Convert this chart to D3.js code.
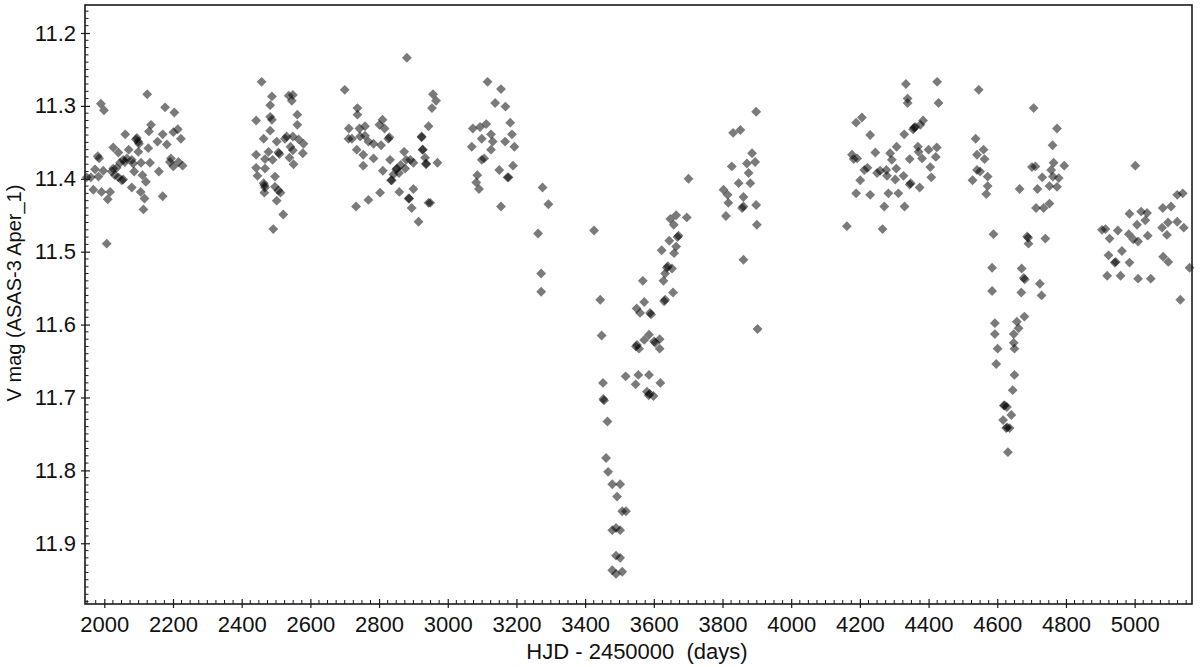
<!DOCTYPE html>
<html>
<head>
<meta charset="utf-8">
<script src="https://cdn.jsdelivr.net/npm/d3@7"></script>
<style>
  html, body { margin: 0; padding: 0; background: #fff; }
  svg { display: block; }
</style>
</head>
<body>
<svg id="chart" width="1200" height="667"></svg>
<script>
// ---- Data (HJD - 2450000, V magnitude) ----
const hjd = [
  // season 1
  2125,1990,1999,2177,2204,2136,2130,2061,2092,2095,2099,2170,2214,2201,2223,2155,2182,2128,2099,2026,
  1981,1985,2041,2055,2060,2080,2084,2107,2133,2194,2191,2216,2228,2201,2159,2026,2022,1973,1997,2031,
  2041,2055,2051,1961,1983,2087,2111,2121,2080,2106,2117,2170,1968,1992,2017,2010,2114,2007,1949,2036,
  2066,2071,2046,2101,
  // season 2
  2458,2488,2483,2537,2549,2546,2442,2483,2488,2562,2562,2483,2464,2502,2526,2531,2549,2566,2580,2542,
  2507,2510,2478,2549,2578,2442,2539,2468,2490,2551,2442,2468,2446,2497,2464,2466,2468,2497,2507,2466,
  2513,2502,2521,2492,
  // season 3
  2700,2737,2737,2810,2801,2712,2743,2759,2816,2711,2721,2745,2759,2769,2784,2806,2827,2735,2754,2784,
  2832,2754,2811,2837,2850,2873,2879,2891,2900,2859,2803,2769,2733,2888,2895,2915,2924,2927,2937,2944,
  2876,2881,2957,2966,2954,2944,2924,2927,2934,2937,2970,2900,2886,2949,2830,2852,2835,2842,2858,2863,
  // season 4
  3116,3155,3138,3168,3182,3073,3094,3112,3099,3126,3131,3167,3187,3194,3070,3126,3106,3099,3190,3150,
  3174,3177,3086,3083,3091,3155,
  // sparse + deep fade
  3276,3293,3263,3272,3272,3426,3444,3448,3452,3453,3455,3465,
  3461,3467,3479,3493,3502,3508,3519,3479,3490,3502,3490,3502,3479,3490,3508,
  3518,3547,3555,3586,3619,3580,3585,3588,3599,3548,3551,3557,3572,3586,3601,3604,3617,3617,
  3550,3560,3572,3589,3592,3568,3630,3633,3656,3628,3633,3638,3641,3653,3623,3645,3659,3665,3669,3672,
  3648,3665,3658,3696,3701,
  // season 5
  3827,3803,3857,3861,3900,3902,3886,3871,3895,3876,3847,3881,3861,3817,3810,3898,3861,3831,3852,3898,3815,
  // season 6
  4162,4266,4189,4206,4230,4177,4182,4192,4245,4201,4189,4230,4222,4213,4250,4259,4279,4271,4283,4312,
  4330,4288,4307,4293,4306,4277,4303,4327,4345,4348,4374,4345,4329,4355,4358,4361,4376,4384,4369,4371,
  4381,4400,4424,4421,4405,4408,4334,4339,4339,4425,4429,
  // season 7
  4546,4537,4541,4560,4563,4528,4541,4550,4572,4572,4568,
  4706,4774,4761,4701,4711,4764,4795,4757,4731,4762,4779,4752,4774,4665,4717,4752,4735,4713,4589,4687,
  4690,4691,4740,4585,4671,4677,4680,4724,4729,4585,4670,4679,4657,4662,4593,4593,4648,4648,4650,4601,
  4597,4650,4645,4619,4622,4628,4641,4617,4626,4629,4636,4631,
  // season 8
  5002,4905,4915,4927,4951,4985,4983,4996,5007,5019,5036,5031,5038,5010,4963,4924,4942,4945,4985,4920,
  4959,5082,5106,5124,5140,5080,5097,5124,5143,5094,5083,5098,5160,5047,5010,5133
];
const vmag = [
  // season 1
  11.284,11.297,11.306,11.302,11.309,11.326,11.335,11.339,11.346,11.344,11.349,11.339,11.332,11.336,11.345,11.349,11.353,11.358,11.363,11.357,
  11.369,11.372,11.364,11.374,11.377,11.374,11.379,11.378,11.378,11.372,11.377,11.377,11.382,11.383,11.390,11.386,11.390,11.387,11.389,11.395,
  11.398,11.401,11.402,11.398,11.397,11.390,11.395,11.404,11.412,11.418,11.427,11.424,11.415,11.418,11.418,11.428,11.442,11.489,11.398,11.385,
  11.372,11.360,11.378,11.352,
  // season 2
  11.267,11.287,11.299,11.286,11.285,11.293,11.320,11.315,11.319,11.312,11.326,11.334,11.345,11.349,11.345,11.342,11.342,11.346,11.352,11.356,
  11.364,11.366,11.363,11.361,11.365,11.367,11.371,11.373,11.374,11.380,11.385,11.386,11.396,11.397,11.406,11.409,11.412,11.411,11.416,11.419,
  11.419,11.430,11.449,11.469,
  // season 3
  11.278,11.303,11.312,11.319,11.326,11.331,11.331,11.328,11.331,11.345,11.345,11.342,11.341,11.349,11.352,11.354,11.345,11.360,11.367,11.372,
  11.374,11.382,11.389,11.402,11.387,11.363,11.374,11.374,11.378,11.418,11.419,11.429,11.438,11.427,11.440,11.459,11.342,11.360,11.379,11.433,
  11.386,11.234,11.284,11.293,11.303,11.328,11.343,11.360,11.371,11.380,11.378,11.414,11.427,11.433,11.343,11.386,11.402,11.394,11.392,11.381,
  // season 4
  11.267,11.277,11.296,11.301,11.323,11.331,11.329,11.325,11.345,11.339,11.349,11.349,11.339,11.356,11.356,11.360,11.372,11.374,11.382,11.388,
  11.398,11.398,11.395,11.405,11.414,11.438,
  // sparse + deep fade
  11.412,11.435,11.475,11.530,11.555,11.471,11.566,11.615,11.680,11.702,11.704,11.733,
  11.783,11.802,11.819,11.836,11.819,11.856,11.856,11.882,11.879,11.882,11.917,11.920,11.937,11.942,11.939,
  11.671,11.682,11.669,11.669,11.680,11.692,11.697,11.695,11.698,11.630,11.628,11.633,11.621,11.614,11.623,11.625,11.620,11.633,
  11.578,11.584,11.569,11.584,11.586,11.540,11.568,11.566,11.556,11.540,11.530,11.522,11.520,11.523,11.498,11.485,11.502,11.493,11.480,11.478,
  11.455,11.450,11.463,11.453,11.400,
  // season 5
  11.383,11.415,11.440,11.511,11.463,11.606,11.365,11.379,11.377,11.392,11.406,11.406,11.425,11.433,11.451,11.436,11.438,11.337,11.333,11.308,11.422,
  // season 6
  11.465,11.469,11.323,11.316,11.340,11.367,11.373,11.372,11.364,11.402,11.420,11.422,11.385,11.388,11.392,11.389,11.396,11.438,11.420,11.420,
  11.438,11.365,11.356,11.374,11.386,11.388,11.401,11.396,11.408,11.406,11.412,11.373,11.339,11.332,11.330,11.329,11.326,11.320,11.356,11.363,
  11.372,11.360,11.357,11.370,11.384,11.398,11.270,11.290,11.296,11.267,11.296,
  // season 7
  11.278,11.345,11.367,11.360,11.373,11.402,11.388,11.390,11.397,11.410,11.421,
  11.303,11.331,11.354,11.384,11.383,11.378,11.382,11.388,11.398,11.397,11.399,11.410,11.411,11.414,11.414,11.434,11.440,11.440,11.476,11.479,
  11.481,11.489,11.482,11.522,11.523,11.536,11.538,11.544,11.560,11.554,11.556,11.589,11.596,11.605,11.598,11.613,11.613,11.625,11.633,11.633,
  11.654,11.669,11.690,11.711,11.711,11.713,11.724,11.731,11.742,11.741,11.742,11.775,
  // season 8
  11.382,11.470,11.469,11.482,11.471,11.448,11.476,11.483,11.463,11.445,11.447,11.457,11.478,11.486,11.499,11.505,11.515,11.514,11.515,11.533,
  11.533,11.440,11.438,11.422,11.420,11.467,11.460,11.459,11.467,11.477,11.507,11.514,11.522,11.537,11.537,11.566
];

const xTickValues = [2000, 2200, 2400, 2600, 2800, 3000, 3200, 3400, 3600, 3800, 4000, 4200, 4400, 4600, 4800, 5000];
const yTickValues = [11.2, 11.3, 11.4, 11.5, 11.6, 11.7, 11.8, 11.9];
const xTitle = "HJD - 2450000  (days)";
const yTitle = "V mag (ASAS-3 Aper_1)";

// ---- Layout ----
const svg = d3.select("#chart");
const plot = { left: 85, right: 1192, top: 5, bottom: 604 };

const x = d3.scaleLinear().domain([1943.8, 5167]).range([plot.left, plot.right]);
const y = d3.scaleLinear().domain([11.1616, 11.9833]).range([plot.top, plot.bottom]);

const data = hjd.map((d, i) => ({ t: d, m: vmag[i] }));

// points
const diamond = d3.symbol().type(d3.symbolDiamond2).size(62);
svg.append("g")
  .selectAll("path")
  .data(data)
  .join("path")
  .attr("d", diamond)
  .attr("transform", d => `translate(${x(d.t)},${y(d.m)})`)
  .attr("fill", "#000")
  .attr("fill-opacity", 0.52);

// frame
svg.append("rect")
  .attr("x", plot.left).attr("y", plot.top)
  .attr("width", plot.right - plot.left).attr("height", plot.bottom - plot.top)
  .attr("fill", "none").attr("stroke", "#1a1a1a").attr("stroke-width", 1.6);

const font = "'Liberation Sans', Arial, sans-serif";

// x axis ticks
const xMinor = d3.range(1950, 5167, 25).filter(v => v % 200 !== 0);
const xAxisG = svg.append("g").attr("transform", `translate(0,${plot.bottom})`);
xAxisG.selectAll("line.minor").data(xMinor).join("line")
  .attr("x1", d => x(d)).attr("x2", d => x(d)).attr("y1", 0).attr("y2", -4)
  .attr("stroke", "#1a1a1a").attr("stroke-width", 1);
const xAxis = d3.axisBottom(x).tickValues(xTickValues).tickSizeInner(4).tickSizeOuter(0).tickPadding(8).tickFormat(d3.format("d"));
xAxisG.append("g").call(xAxis)
  .call(g => g.select(".domain").remove())
  .call(g => g.selectAll(".tick line").attr("y1", -5).attr("y2", 4).attr("stroke", "#1a1a1a").attr("stroke-width", 1.2))
  .call(g => g.selectAll(".tick text").attr("font-family", font).attr("font-size", 22).attr("fill", "#111"));

// y axis ticks
const yMinor = d3.range(1117, 1199, 1).map(v => v / 100).filter(v => Math.round(v * 100) % 10 !== 0);
const yAxisG = svg.append("g").attr("transform", `translate(${plot.left},0)`);
yAxisG.selectAll("line.minor").data(yMinor).join("line")
  .attr("x1", 0).attr("x2", 3.5).attr("y1", d => y(d)).attr("y2", d => y(d))
  .attr("stroke", "#1a1a1a").attr("stroke-width", 1);
const yAxis = d3.axisLeft(y).tickValues(yTickValues).tickSizeInner(4).tickSizeOuter(0).tickPadding(5).tickFormat(d3.format(".1f"));
yAxisG.append("g").call(yAxis)
  .call(g => g.select(".domain").remove())
  .call(g => g.selectAll(".tick line").attr("x1", -4).attr("x2", 5).attr("stroke", "#1a1a1a").attr("stroke-width", 1.2))
  .call(g => g.selectAll(".tick text").attr("font-family", font).attr("font-size", 22).attr("fill", "#111"));

// titles
svg.append("text")
  .attr("x", 637).attr("y", 659)
  .attr("text-anchor", "middle")
  .style("white-space", "pre")
  .attr("font-family", font).attr("font-size", 22).attr("fill", "#111")
  .text(xTitle);

svg.append("text")
  .attr("transform", "translate(21,293) rotate(-90)")
  .attr("text-anchor", "middle")
  .attr("font-family", font).attr("font-size", 20).attr("fill", "#111")
  .text(yTitle);
</script>
</body>
</html>
